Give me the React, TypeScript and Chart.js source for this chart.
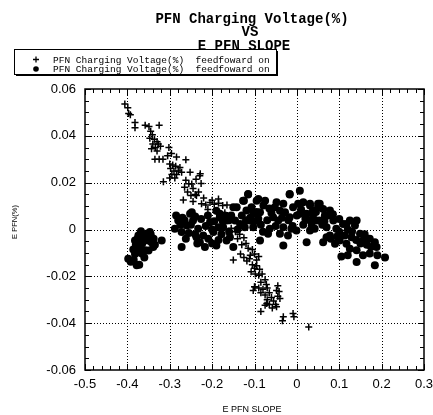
import { useEffect, useRef } from 'react';
import { Chart, registerables } from 'chart.js';

Chart.register(...registerables);

const TITLE_LINES = ['PFN Charging Voltage(%)', 'VS', 'E PFN SLOPE'];
const LEGEND_LABELS = ['PFN Charging Voltage(%)  feedfoward on', 'PFN Charging Voltage(%)  feedfoward on'];
const X_TITLE = 'E PFN SLOPE';
const Y_TITLE = 'E PFN(%)';
const X_TICKS = [-0.5, -0.4, -0.3, -0.2, -0.1, 0, 0.1, 0.2, 0.3];
const Y_TICKS = [-0.06, -0.04, -0.02, 0, 0.02, 0.04, 0.06];

// series 1: "+" markers
const plusPoints: [number, number][] = [
  [-0.406, 0.0536], [-0.399, 0.052], [-0.397, 0.0495], [-0.393, 0.049],
  [-0.382, 0.0457], [-0.382, 0.0435],
  [-0.358, 0.0445], [-0.349, 0.044], [-0.325, 0.0445], [-0.345, 0.042], [-0.341, 0.0405],
  [-0.347, 0.039], [-0.336, 0.0385], [-0.33, 0.0375], [-0.34, 0.0365], [-0.327, 0.0365],
  [-0.334, 0.035], [-0.322, 0.0355], [-0.343, 0.0345], [-0.33, 0.0335],
  [-0.335, 0.030], [-0.325, 0.030], [-0.316, 0.030],
  [-0.302, 0.035], [-0.296, 0.0325], [-0.305, 0.0315], [-0.284, 0.031], [-0.262, 0.0298],
  [-0.30, 0.028], [-0.293, 0.0275], [-0.286, 0.027], [-0.298, 0.026], [-0.29, 0.025],
  [-0.28, 0.025], [-0.295, 0.0235], [-0.284, 0.0235], [-0.276, 0.0265], [-0.272, 0.0245],
  [-0.30, 0.022], [-0.288, 0.022],
  [-0.252, 0.0244], [-0.229, 0.023], [-0.238, 0.0215], [-0.315, 0.0204], [-0.248, 0.0194],
  [-0.262, 0.021], [-0.255, 0.0195], [-0.265, 0.018], [-0.245, 0.0175], [-0.258, 0.016],
  [-0.24, 0.015], [-0.25, 0.0145], [-0.232, 0.016], [-0.268, 0.0126], [-0.237, 0.0145], [-0.245, 0.012],
  [-0.225, 0.011], [-0.215, 0.0105], [-0.205, 0.0115], [-0.195, 0.0108], [-0.185, 0.0112],
  [-0.175, 0.0102], [-0.165, 0.0105], [-0.21, 0.0085], [-0.19, 0.0078], [-0.17, 0.0072],
  [-0.228, 0.0238], [-0.226, 0.0196], [-0.22, 0.0135], [-0.2, 0.0125], [-0.185, 0.013],
  [-0.155, 0.0005], [-0.145, -0.001], [-0.135, -0.002], [-0.14, -0.004], [-0.125, -0.0035],
  [-0.13, -0.0065], [-0.12, -0.006], [-0.115, -0.008], [-0.105, -0.0085], [-0.11, -0.011],
  [-0.1, -0.0105], [-0.095, -0.013], [-0.09, -0.0115],
  [-0.15, -0.013],
  [-0.133, -0.0105], [-0.125, -0.012], [-0.118, -0.0135], [-0.112, -0.0125], [-0.105, -0.015],
  [-0.1, -0.0165], [-0.095, -0.0155], [-0.088, -0.017], [-0.108, -0.018], [-0.098, -0.019],
  [-0.09, -0.0195], [-0.082, -0.019], [-0.075, -0.0215], [-0.085, -0.0225], [-0.072, -0.0235],
  [-0.1, -0.0245], [-0.09, -0.025], [-0.08, -0.0255], [-0.07, -0.025], [-0.065, -0.027],
  [-0.075, -0.028], [-0.085, -0.027], [-0.06, -0.029], [-0.07, -0.03], [-0.055, -0.0305],
  [-0.065, -0.032], [-0.05, -0.032], [-0.045, -0.0285], [-0.042, -0.0265], [-0.058, -0.0335],
  [-0.045, -0.024], [-0.048, -0.026], [-0.04, -0.0295], [-0.048, -0.033], [-0.071, -0.0316],
  [-0.075, -0.0323], [-0.103, -0.026], [-0.099, -0.0245],
  [-0.085, -0.035], [-0.032, -0.0373], [-0.034, -0.039], [-0.009, -0.0359], [-0.007, -0.0373],
  [0.028, -0.0416],
];

// series 2: filled circle markers
const dotPoints: [number, number][] = [
  [-0.398, -0.0125], [-0.392, -0.0138], [-0.385, -0.013], [-0.378, -0.0153], [-0.372, -0.015],
  [-0.382, -0.0105], [-0.375, -0.0095], [-0.386, -0.0085], [-0.38, -0.0065], [-0.382, -0.0047],
  [-0.374, -0.0026], [-0.37, -0.0075], [-0.376, -0.004], [-0.365, -0.006], [-0.362, -0.0035],
  [-0.355, -0.0018], [-0.351, -0.0047], [-0.347, -0.0011], [-0.339, -0.0075], [-0.343, -0.0054],
  [-0.358, -0.0089], [-0.366, -0.0103], [-0.36, -0.012], [-0.35, -0.009], [-0.345, -0.002],
  [-0.338, -0.004], [-0.335, -0.0065], [-0.319, -0.0047], [-0.368, -0.0008],
  [-0.252, 0.0067], [-0.248, 0.0074], [-0.28, 0.0038], [-0.288, 0.0003], [-0.272, -0.0011],
  [-0.26, 0.0017], [-0.245, 0.0038], [-0.233, 0.0003], [-0.221, -0.0026], [-0.229, -0.0054],
  [-0.209, -0.004], [-0.197, -0.0011], [-0.205, 0.0031], [-0.182, 0.0052], [-0.174, 0.001],
  [-0.19, -0.0068], [-0.217, -0.0075], [-0.166, -0.0047], [-0.272, -0.0075], [-0.237, -0.0033],
  [-0.265, 0.004], [-0.24, 0.0055], [-0.215, 0.0015], [-0.195, 0.0035], [-0.178, -0.002],
  [-0.16, -0.001], [-0.16, 0.004], [-0.17, 0.006], [-0.2, -0.006], [-0.185, -0.0045],
  [-0.226, 0.0045], [-0.255, -0.0015], [-0.275, 0.002],
  [-0.182, 0.0067], [-0.166, 0.0038], [-0.142, 0.0095], [-0.146, 0.0038], [-0.134, 0.0024],
  [-0.158, -0.0033], [-0.15, -0.0075], [-0.115, 0.0149], [-0.125, 0.0123], [-0.095, 0.0123],
  [-0.107, 0.0095], [-0.119, 0.0081], [-0.103, 0.0067], [-0.087, 0.0074], [-0.079, 0.0102],
  [-0.075, 0.0123], [-0.091, 0.0046], [-0.111, 0.0038], [-0.123, 0.001], [-0.103, 0.001],
  [-0.068, -0.0018], [-0.087, -0.0047], [-0.052, 0.0095], [-0.056, 0.0052], [-0.044, 0.0038],
  [-0.048, 0.0116], [-0.032, 0.011], [-0.017, 0.0149], [0.007, 0.0166], [-0.028, 0.0074],
  [-0.017, 0.0052], [-0.009, 0.0095], [0.003, 0.011], [0.015, 0.0116], [0.007, 0.0067],
  [0.023, 0.0067], [-0.032, 0.001], [-0.04, -0.0018], [-0.032, -0.0068], [-0.013, 0.0003],
  [-0.001, -0.0004], [0.023, -0.0054], [0.031, -0.0004], [0.038, 0.0081], [0.054, 0.011],
  [0.046, 0.0038], [0.066, 0.006], [0.07, -0.0033], [-0.021, -0.0026], [-0.064, 0.0003],
  [0.031, 0.011], [0.05, 0.011], [0.062, 0.0088], [0.038, 0.006], [0.054, 0.0038],
  [0.074, 0.006], [0.086, 0.0038], [0.07, 0.001], [0.093, 0.0003], [0.109, 0.0024],
  [0.125, 0.0038], [0.137, 0.0017], [0.113, -0.0026], [0.101, -0.0047], [0.062, -0.0054],
  [0.129, -0.0033], [0.149, -0.0018], [0.156, -0.0047], [0.172, -0.004], [0.188, -0.0075],
  [0.172, -0.0103], [0.125, -0.0082], [0.141, -0.0089], [0.105, -0.0115], [0.141, -0.0139],
  [0.184, -0.0153], [0.208, -0.012], [0.156, -0.011], [0.031, 0.0038], [0.042, 0.0003],
  [0.078, -0.0026], [0.09, -0.0061], [0.117, -0.0061], [0.184, -0.0054],
  [-0.115, 0.0152], [-0.091, 0.013], [-0.017, 0.0152], [0.031, 0.0102], [0.05, 0.0095],
  [0.078, 0.0081], [0.117, 0.0024], [0.141, 0.0038], [-0.15, 0.0095], [-0.127, 0.0123],
  [-0.11, 0.005], [-0.095, 0.0075], [-0.085, 0.002], [-0.13, 0.006], [0.06, 0.002],
  [0.1, -0.001], [0.12, 0.0], [0.08, -0.004], [0.15, -0.006], [0.16, -0.002],
  [-0.24, -0.002], [-0.2, 0.0], [-0.185, 0.001], [-0.06, 0.007], [-0.04, 0.008],
  [-0.02, 0.004], [0.0, 0.006], [0.015, 0.002], [-0.07, 0.004],
  [-0.285, 0.006], [-0.27, 0.005], [-0.262, -0.004], [-0.25, 0.002], [-0.235, -0.006],
  [-0.21, 0.006], [-0.19, 0.008], [-0.175, 0.0035], [-0.155, 0.006], [-0.14, 0.0],
  [-0.12, 0.004], [-0.1, 0.0035], [-0.08, -0.001], [-0.065, 0.009], [-0.05, 0.0015],
  [-0.035, 0.005], [-0.01, 0.0015], [0.01, 0.0085], [0.02, 0.0045], [0.035, 0.0015],
  [0.045, 0.0075], [0.065, 0.0035], [0.085, 0.0065], [0.1, 0.0045], [0.095, -0.003],
  [0.13, -0.001], [0.14, -0.0045], [0.165, -0.0065], [0.175, -0.0075], [0.12, -0.011],
  [0.19, -0.011],
];

const framePlugin = {
  id: 'frame',
  beforeDatasetsDraw(chart: any) {
    const { ctx, chartArea: a, scales } = chart;
    const xs = scales.x;
    const ys = scales.y;
    ctx.save();
    ctx.strokeStyle = '#000';
    ctx.lineWidth = 1;
    ctx.setLineDash([1, 2]);
    ctx.beginPath();
    X_TICKS.forEach((v) => {
      if (v <= X_TICKS[0] || v >= X_TICKS[X_TICKS.length - 1]) return;
      const px = Math.round(xs.getPixelForValue(v)) + 0.5;
      ctx.moveTo(px, a.top);
      ctx.lineTo(px, a.bottom);
    });
    Y_TICKS.forEach((v) => {
      if (v <= Y_TICKS[0] || v >= Y_TICKS[Y_TICKS.length - 1]) return;
      const py = Math.round(ys.getPixelForValue(v)) + 0.5;
      ctx.moveTo(a.left, py);
      ctx.lineTo(a.right, py);
    });
    ctx.stroke();
    ctx.restore();
  },
  afterDraw(chart: any) {
    const { ctx, chartArea: a, scales } = chart;
    const xs = scales.x;
    const ys = scales.y;
    ctx.save();
    ctx.strokeStyle = '#000';
    ctx.setLineDash([]);
    // minor / major inward ticks
    ctx.lineWidth = 1;
    ctx.beginPath();
    const xMin = X_TICKS[0];
    const xMax = X_TICKS[X_TICKS.length - 1];
    for (let i = 0; i <= Math.round((xMax - xMin) / 0.02); i++) {
      const v = xMin + i * 0.02;
      const px = Math.round(xs.getPixelForValue(v)) + 0.5;
      const len = i % 5 === 0 ? 6 : 4;
      ctx.moveTo(px, a.bottom);
      ctx.lineTo(px, a.bottom - len);
      ctx.moveTo(px, a.top);
      ctx.lineTo(px, a.top + len);
    }
    const yMin = Y_TICKS[0];
    const yMax = Y_TICKS[Y_TICKS.length - 1];
    for (let i = 0; i <= Math.round((yMax - yMin) / 0.005); i++) {
      const v = yMin + i * 0.005;
      const py = Math.round(ys.getPixelForValue(v)) + 0.5;
      const len = i % 4 === 0 ? 6 : 4;
      ctx.moveTo(a.left, py);
      ctx.lineTo(a.left + len, py);
      ctx.moveTo(a.right, py);
      ctx.lineTo(a.right - len, py);
    }
    ctx.stroke();
    // frame
    ctx.lineWidth = 1.5;
    ctx.strokeRect(a.left, a.top, a.right - a.left, a.bottom - a.top);

    // title
    ctx.fillStyle = '#000';
    ctx.textAlign = 'center';
    ctx.textBaseline = 'middle';
    ctx.font = 'bold 14px "Liberation Mono", "DejaVu Sans Mono", monospace';
    ctx.fillText(TITLE_LINES[0], 252, 19);
    ctx.fillText(TITLE_LINES[1], 250, 32);
    ctx.fillText(TITLE_LINES[2], 244, 46);

    // legend box
    const lx = 14, ly = 49, lw = 262, lh = 25;
    ctx.fillStyle = '#fff';
    ctx.fillRect(lx, ly, lw, lh);
    ctx.fillStyle = '#000';
    ctx.fillRect(lx + 2, ly + lh, lw, 2);
    ctx.fillRect(lx + lw, ly + 2, 2, lh);
    ctx.lineWidth = 1;
    ctx.strokeRect(lx + 0.5, ly + 0.5, lw, lh);
    // legend symbols
    ctx.lineWidth = 1.3;
    ctx.beginPath();
    ctx.moveTo(33, 59.5); ctx.lineTo(39, 59.5);
    ctx.moveTo(36, 56.5); ctx.lineTo(36, 62.5);
    ctx.stroke();
    ctx.beginPath();
    ctx.arc(36, 69, 2.8, 0, Math.PI * 2);
    ctx.fill();
    ctx.font = '9.5px "Liberation Mono", "DejaVu Sans Mono", monospace';
    ctx.textAlign = 'left';
    ctx.fillText(LEGEND_LABELS[0], 53, 60);
    ctx.fillText(LEGEND_LABELS[1], 53, 69);

    // axis titles
    ctx.font = '9px "Liberation Sans", Arial, sans-serif';
    ctx.textAlign = 'center';
    ctx.fillText(X_TITLE, 252, 410);
    ctx.save();
    ctx.translate(15, 222);
    ctx.rotate(-Math.PI / 2);
    ctx.font = '7.5px "Liberation Sans", Arial, sans-serif';
    ctx.fillText(Y_TITLE, 0, 0);
    ctx.restore();
    ctx.restore();
  },
};

export default function App() {
  const ref = useRef<HTMLCanvasElement | null>(null);
  useEffect(() => {
    if (!ref.current) return;
    const chart = new Chart(ref.current, {
      type: 'scatter',
      data: {
        datasets: [
          {
            label: LEGEND_LABELS[0],
            data: plusPoints.map(([x, y]) => ({ x, y })),
            pointStyle: 'cross',
            pointRadius: 3.5,
            borderColor: '#000',
            backgroundColor: '#000',
            borderWidth: 1.5,
          },
          {
            label: LEGEND_LABELS[1],
            data: dotPoints.map(([x, y]) => ({ x, y })),
            pointStyle: 'circle',
            pointRadius: 4,
            borderColor: '#000',
            backgroundColor: '#000',
            borderWidth: 0,
          },
        ],
      },
      options: {
        animation: false,
        responsive: true,
        maintainAspectRatio: false,
        layout: { padding: { top: 89, right: 9, left: 0, bottom: 0 } },
        plugins: { legend: { display: false }, tooltip: { enabled: false }, title: { display: false } },
        scales: {
          x: {
            type: 'linear',
            min: X_TICKS[0],
            max: X_TICKS[X_TICKS.length - 1],
            grid: { display: false, drawTicks: false },
            border: { display: false },
            afterBuildTicks: (s: any) => { s.ticks = X_TICKS.map((v) => ({ value: v })); },
            afterFit: (s: any) => { s.height = 45; s.paddingLeft = 0; s.paddingRight = 0; },
            ticks: {
              padding: 7,
              color: '#000',
              font: { family: '"Liberation Sans", Arial, sans-serif', size: 13 },
              maxRotation: 0,
              autoSkip: false,
              callback: (v: any) => String(Number(Number(v).toFixed(1))),
            },
          },
          y: {
            type: 'linear',
            min: Y_TICKS[0],
            max: Y_TICKS[Y_TICKS.length - 1],
            grid: { display: false, drawTicks: false },
            border: { display: false },
            afterBuildTicks: (s: any) => { s.ticks = Y_TICKS.map((v) => ({ value: v })); },
            afterFit: (s: any) => { s.width = 85; s.paddingTop = 0; s.paddingBottom = 0; },
            ticks: {
              padding: 9,
              color: '#000',
              font: { family: '"Liberation Sans", Arial, sans-serif', size: 13 },
              autoSkip: false,
              callback: (v: any) => String(Number(Number(v).toFixed(2))),
            },
          },
        },
      },
      plugins: [framePlugin],
    });
    return () => chart.destroy();
  }, []);
  return (
    <div style={{ position: 'fixed', left: 0, top: 0, width: 433, height: 415, background: '#fff' }}>
      <canvas ref={ref} />
    </div>
  );
}
